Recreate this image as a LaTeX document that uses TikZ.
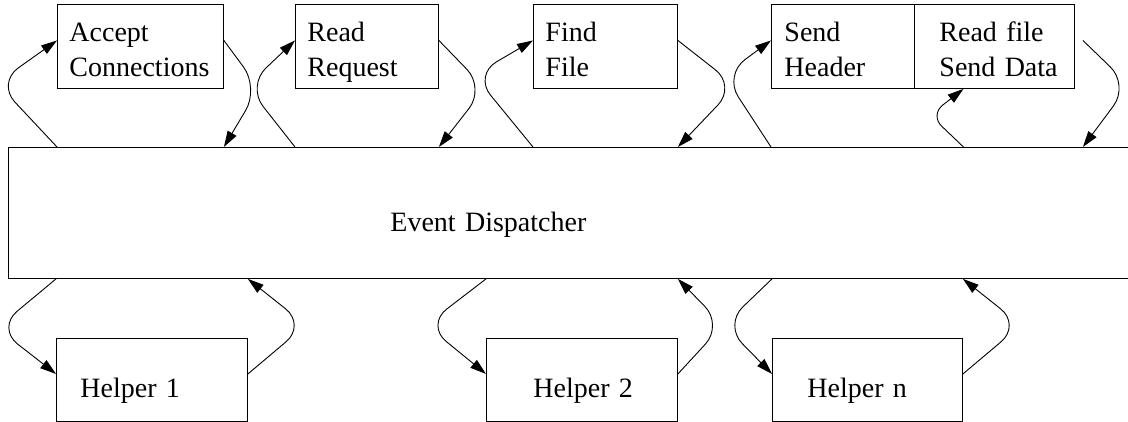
\documentclass[tikz,border=0pt]{standalone}
\usepackage{fontspec}
\setmainfont{Liberation Serif}
\usetikzlibrary{arrows.meta}

% text box: the struts fix the first baseline and the bottom depth,
% the leading \hspace fixes the left inset of the text
\newcommand{\boxtext}[4]{\hspace*{#1}\rule{0pt}{#2}#4\rule[-#3]{0pt}{0pt}}

\begin{document}
\begin{tikzpicture}[x=1pt,y=-1pt,
  box/.style={draw, line width=0.9pt, anchor=north west, inner sep=0pt,
    align=left, font=\fontsize{28}{35}\selectfont},
  flow/.style={line width=0.9pt, rounded corners=26pt,
    -{Triangle[length=16pt,width=10pt]}}]
\useasboundingbox (0,0) rectangle (1128,422);

% stage boxes
\node[box, minimum width=166pt, minimum height=84pt, text width=166pt] (acc) at (57,4)
  {\boxtext{12pt}{37pt}{12pt}{Accept\\\hspace*{12pt}Connections}};
\node[box, minimum width=143pt, minimum height=84pt, text width=143pt] (req) at (295,4)
  {\boxtext{12pt}{37pt}{12pt}{Read\\\hspace*{12pt}Request}};
\node[box, minimum width=144pt, minimum height=84pt, text width=144pt] (find) at (533,4)
  {\boxtext{12pt}{37pt}{12pt}{Find\\\hspace*{12pt}File}};
\node[box, minimum width=143pt, minimum height=84pt, text width=143pt] (send) at (771,4)
  {\boxtext{13pt}{37pt}{12pt}{Send\\\hspace*{13pt}Header}};
\node[box, minimum width=160pt, minimum height=84pt, text width=160pt] (rdf) at (914,4)
  {\boxtext{25pt}{37pt}{12pt}{Read file\\\hspace*{25pt}Send Data}};

% dispatcher
\node[box, minimum width=1132pt, minimum height=131pt, text width=1132pt] (disp) at (8,147)
  {\boxtext{382pt}{84pt}{47pt}{Event Dispatcher}};

% helpers
\node[box, minimum width=191pt, minimum height=83pt, text width=191pt] (h1) at (56,338)
  {\boxtext{24pt}{59pt}{24pt}{Helper 1}};
\node[box, minimum width=191pt, minimum height=83pt, text width=191pt] (h2) at (486,338)
  {\boxtext{47pt}{59pt}{24pt}{Helper 2}};
\node[box, minimum width=190pt, minimum height=83pt, text width=190pt] (hn) at (772,338)
  {\boxtext{35pt}{59pt}{24pt}{Helper n}};

% free ends at the read file box
\coordinate (rdfin) at ([xshift=-31pt]rdf.south);
\coordinate (rdfout) at ([xshift=8pt,yshift=6pt]rdf.east);

% dispatcher -> stage
\draw[flow] (acc.west |- disp.north) -- (-3,83) -- ([yshift=6pt]acc.west);
\draw[flow] (req.west |- disp.north) -- (247,86) -- ([yshift=6pt]req.west);
\draw[flow] (find.west |- disp.north) -- (474,75) -- ([yshift=6pt]find.west);
\draw[flow] (send.west |- disp.north) -- (724,75) -- ([yshift=6pt]send.west);
\draw[flow, rounded corners=16pt] (rdfin |- disp.north) -- (930,115) -- (rdfin);

% stage -> dispatcher
\draw[flow] ([yshift=6pt]acc.east) -- (259,88) -- (acc.east |- disp.north);
\draw[flow] ([yshift=6pt]req.east) -- (485,88) -- (req.east |- disp.north);
\draw[flow] ([yshift=6pt]find.east) -- (736,86) -- (find.east |- disp.north);
\draw[flow] (rdfout) -- (1129,85) -- (rdfout |- disp.north);

% dispatcher <-> helpers
\draw[flow] (h1.west |- disp.south) -- (-3,328) -- ([yshift=6pt]h1.west);
\draw[flow] ([yshift=6pt]h1.east) -- (306,325) -- (h1.east |- disp.south);
\draw[flow] (h2.west |- disp.south) -- (426,325) -- ([yshift=6pt]h2.west);
\draw[flow] ([yshift=6pt]h2.east) -- (723,325) -- (h2.east |- disp.south);
\draw[flow] (hn.west |- disp.south) -- (724,325) -- ([yshift=6pt]hn.west);
\draw[flow] ([yshift=6pt]hn.east) -- (1021,325) -- (hn.east |- disp.south);
\end{tikzpicture}
\end{document}
